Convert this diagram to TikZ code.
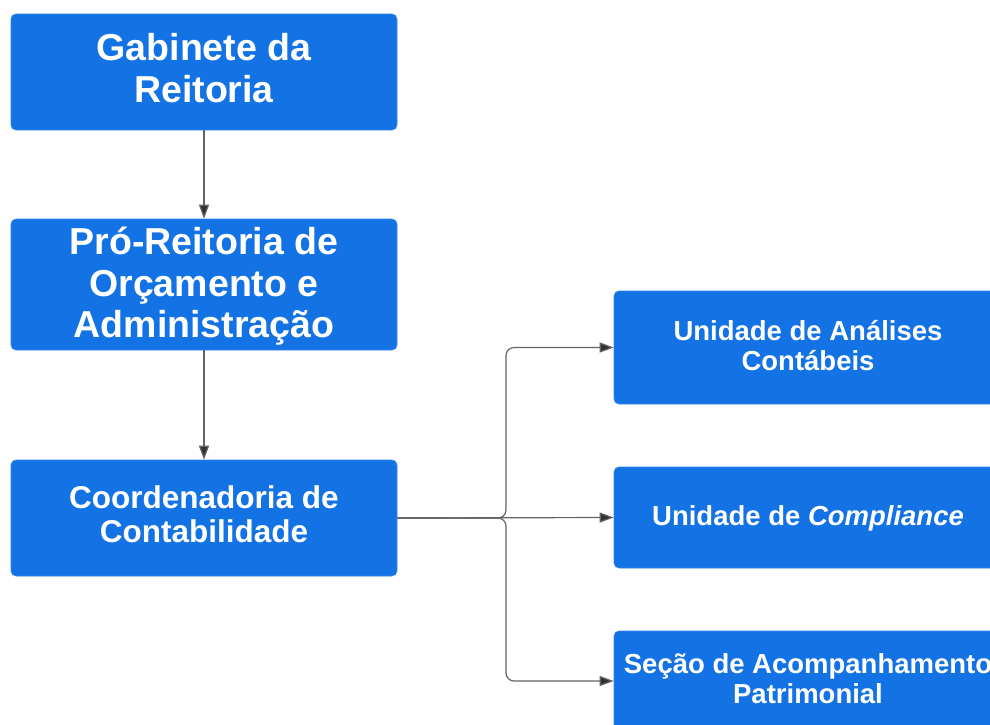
\documentclass[tikz,border=0pt]{standalone}
\usepackage{fontspec}
\setmainfont{Liberation Sans}
\usetikzlibrary{arrows.meta}
\definecolor{boxblue}{RGB}{19,114,228}
\definecolor{linegray}{RGB}{100,100,100}
\definecolor{tipgray}{RGB}{50,50,50}
\tikzset{
  orgbox/.style={fill=boxblue, draw=boxblue!85!white, line width=0.6pt, rounded corners=5pt, inner sep=0pt},
  txt/.style={text=white, align=center, inner sep=0pt},
  bigtxt/.style={txt, font=\bfseries\fontsize{37.5}{41.5}\selectfont},
  midtxt/.style={txt, font=\bfseries\fontsize{31.5}{34}\selectfont},
  smalltxt/.style={txt, font=\bfseries\fontsize{27.5}{30}\selectfont},
  conn/.style={draw=linegray, line width=1.2pt, -{Triangle[length=14pt,width=10pt,fill=tipgray]}},
}
\begin{document}
\begin{tikzpicture}[x=1pt,y=-1pt]
\useasboundingbox (0,0) rectangle (990,724);
\clip (0,0) rectangle (990,724);
\fill[white] (0,0) rectangle (990,724);

\node[orgbox, minimum width=386pt, minimum height=116pt] (gab) at (204,72) {};
\node[bigtxt] (gabt) at (204,68) {Gabinete da\\Reitoria};
\node[orgbox, minimum width=386pt, minimum height=131pt] (pro) at (204,284.5) {};
\node[bigtxt] (prot) at (204,286.5) {Pró-Reitoria de\\Orçamento e\\Administração};
\node[orgbox, minimum width=386pt, minimum height=116pt] (coo) at (204,518) {};
\node[midtxt] (coot) at (204,514.5) {Coordenadoria de\\Contabilidade};

\node[orgbox, minimum width=388pt, minimum height=113pt] (una) at (808,347.5) {};
\node[smalltxt] (unat) at (808,345.5) {Unidade de Análises\\Contábeis};
\node[orgbox, minimum width=388pt, minimum height=101pt] (unc) at (808,517.5) {};
\node[smalltxt] (unct) at (808,518.5) {Unidade de \textit{Compliance}};
\node[orgbox, minimum width=388pt, minimum height=100pt] (sec) at (808,681) {};
\node[smalltxt] (sect) at (808,678.5) {Seção de Acompanhamento\\Patrimonial};

\coordinate (j) at (506,518);

\draw[conn] (gab.south) -- (pro.north);
\draw[conn] (pro.south) -- (coo.north);
\draw[conn] (coo.east) -- (unc.west);
\draw[conn, rounded corners=8pt] (coo.east) -- (j) |- (una.west);
\draw[conn, rounded corners=8pt] (coo.east) -- (j) |- (sec.west);
\end{tikzpicture}
\end{document}
